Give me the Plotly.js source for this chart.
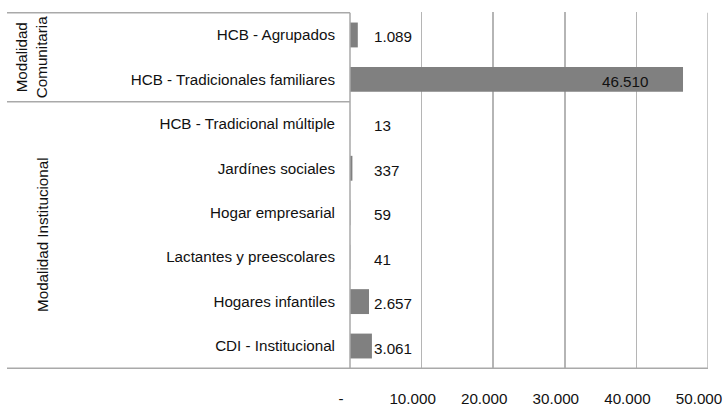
<!DOCTYPE html>
<html>
<head>
<meta charset="utf-8">
<script src="https://cdn.plot.ly/plotly-3.0.1.min.js"></script>
<style>html,body{margin:0;padding:0;background:#fff;}#chart{width:723px;height:407px;}</style>
</head>
<body>
<div id="chart"></div>
<script>
var categories = ['HCB - Agrupados','HCB - Tradicionales familiares','HCB - Tradicional múltiple','Jardínes sociales','Hogar empresarial','Lactantes y preescolares','Hogares infantiles','CDI - Institucional'];
var values = [1089, 46510, 13, 337, 59, 41, 2657, 3061];
var groupNames = ['Modalidad<br>Comunitaria', 'Modalidad Institucional'];
var groupSizes = [2, 6];
var tickVals = [0, 10000, 20000, 30000, 40000, 50000];
var tickLabels = ['-', '10.000', '20.000', '30.000', '40.000', '50.000'];

var FONT = '"Liberation Sans", Arial, sans-serif';
var FS = 15.2;
var LINE = '#a9a9a9';
var GRID = '#b5b5b5';

function fmt(v){ return String(v).replace(/\B(?=(\d{3})+(?!\d))/g, '.'); }

var maxV = Math.max.apply(null, values);

var annotations = [];
values.forEach(function(v, i){
  if (v === maxV) {
    annotations.push({x: v, y: categories[i], xref:'x', yref:'y', text: fmt(v), showarrow:false,
      xanchor:'right', xshift:-33, yshift:-2, font:{family:FONT, size:FS, color:'#111'}});
  } else {
    annotations.push({x: 0, y: categories[i], xref:'x', yref:'y', text: fmt(v), showarrow:false,
      xanchor:'left', xshift:22, yshift:-2, font:{family:FONT, size:FS, color:'#111'}});
  }
});

var leftPaper = (7 - 350) / 358;
var shapes = [];
var start = 0;
var groupX = [31, 43];
groupSizes.forEach(function(n, g){
  var y0 = start - 0.5, y1 = start + n - 0.5;
  annotations.push({xref:'paper', yref:'y', x: (groupX[g] - 350) / 358, y: (y0 + y1) / 2,
    text: groupNames[g], showarrow:false, textangle:-90, xanchor:'center', yanchor:'middle',
    align:'center', font:{family:FONT, size:FS, color:'#111'}});
  shapes.push({type:'line', xref:'paper', yref:'y', x0: leftPaper, x1: 0, y0: y0, y1: y0,
    line:{color:LINE, width:1.5}});
  start += n;
});
shapes.push({type:'line', xref:'paper', yref:'y', x0: leftPaper, x1: 1, y0: start - 0.5, y1: start - 0.5,
  line:{color:LINE, width:1.5}});
shapes.push({type:'line', xref:'paper', yref:'y', x0: 0, x1: 0, y0: -0.5, y1: start - 0.5,
  line:{color:LINE, width:1.5}});
var lastTick = tickVals[tickVals.length - 1];
shapes.push({type:'line', xref:'x', yref:'y', x0: lastTick, x1: lastTick, y0: -0.5, y1: start - 0.5,
  line:{color:GRID, width:1.5}});

var trace = {
  type:'bar', orientation:'h', x: values, y: categories,
  marker:{color:'#808080', line:{width:0}},
  hoverinfo:'none'
};

var layout = {
  width:723, height:407,
  margin:{l:350, r:15, t:12, b:38},
  paper_bgcolor:'#fff', plot_bgcolor:'#fff',
  bargap:0.44,
  showlegend:false,
  font:{family:FONT, size:FS, color:'#111'},
  xaxis:{range:[0,lastTick], tickvals:tickVals, ticktext:tickLabels, showgrid:true, gridcolor:GRID, gridwidth:1.5,
    zeroline:false, showline:false, ticks:'', ticklabelstandoff:19, ticklabelshift:-9, automargin:false,
    ticklabeloverflow:'allow', tickfont:{family:FONT, size:FS, color:'#111'}, fixedrange:true},
  yaxis:{autorange:'reversed', type:'category', showgrid:false, zeroline:false, showline:false, ticks:'',
    ticklabelstandoff:14, automargin:false, tickfont:{family:FONT, size:FS, color:'#111'}, fixedrange:true},
  shapes: shapes,
  annotations: annotations
};

Plotly.newPlot('chart', [trace], layout, {staticPlot:true, displayModeBar:false});
</script>
</body>
</html>
